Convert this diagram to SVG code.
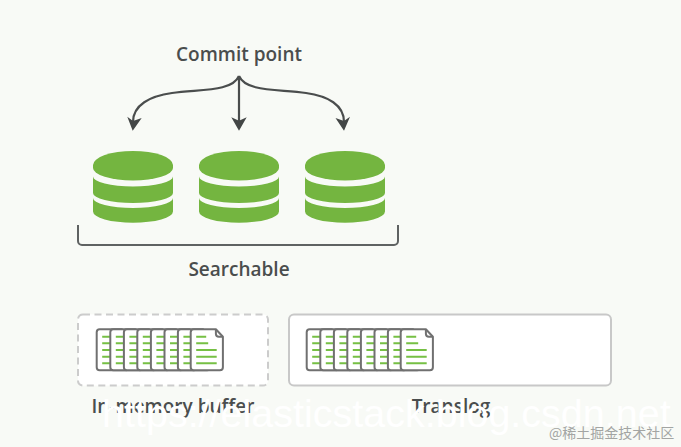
<svg xmlns="http://www.w3.org/2000/svg" xmlns:xlink="http://www.w3.org/1999/xlink" width="681" height="447" viewBox="0 0 681 447">
<style>
.lbl{font-family:"Open Sans","Liberation Sans",sans-serif;font-weight:600;font-size:19px;fill:#4a4d4d;text-anchor:middle}
.slab{fill:#74b540}
.edge{fill:none;stroke:#4a4d4d;stroke-width:2.2}
.head{fill:#434646}
.dl{stroke:#76c044;stroke-width:2;fill:none}
.ds{fill:#fff;stroke:#707070;stroke-width:2;stroke-linejoin:round}
</style>
<defs>
<g id="db">
<path class="slab" d="M-40 165A40 14 0 0 1 40 165V168A40 12.5 0 0 1-40 168Z"/>
<path class="slab" d="M-40 176.5A40 10 0 0 0 40 176.5V193A40 10 0 0 1-40 193Z"/>
<path class="slab" d="M-40 198A40 10 0 0 0 40 198V211.5A40 11.2 0 0 1-40 211.5Z"/>
</g>
<g id="doc">
<path class="ds" d="M4 0H25.2L32.2 7.5V38A3 3 0 0 1 29.2 41H3A3 3 0 0 1 0 38V3A3 3 0 0 1 3 0Z"/>
<path d="M25.2 0V4.5A3 3 0 0 0 28.2 7.5H32.2" fill="none" stroke="#707070" stroke-width="2"/>
<path class="dl" d="M5.5 7.5H15.5M5.5 14H17.5M5.5 20.7H26M5.5 27.4H26M5.5 34H26"/>
</g>
<g id="stack">
<use xlink:href="#doc" href="#doc" x="0"/>
<use xlink:href="#doc" href="#doc" x="13.6"/>
<use xlink:href="#doc" href="#doc" x="27.2"/>
<use xlink:href="#doc" href="#doc" x="40.6"/>
<use xlink:href="#doc" href="#doc" x="54.2"/>
<use xlink:href="#doc" href="#doc" x="67.8"/>
<use xlink:href="#doc" href="#doc" x="81.2"/>
<use xlink:href="#doc" href="#doc" x="94"/>
</g>
</defs>
<rect width="681" height="447" fill="#f8faf6"/>
<g id="connectors">
<path class="edge" d="M239 76C232 92 200 89 172 93C150 96 133 105 133 122"/>
<path class="edge" d="M239 76V122"/>
<path class="edge" d="M239 76C246 92 278 89 306 93C328 96 344 105 344 122"/>
<path class="head" d="M132.7 130.7L127.3 116.7L133 121L141.7 118Z"/>
<path class="head" d="M239 130.7L231.3 117.3L239 120.7L246.7 117.3Z"/>
<path class="head" d="M344 130.7L335.5 118L344 121L350 116.7Z"/>
</g>
<g id="commit-point"><text class="lbl" x="239" y="61">Commit point</text></g>
<g id="segment-1"><use xlink:href="#db" href="#db" x="133"/></g>
<g id="segment-2"><use xlink:href="#db" href="#db" x="239"/></g>
<g id="segment-3"><use xlink:href="#db" href="#db" x="345"/></g>
<g id="searchable">
<path d="M78 225V241A4 4 0 0 0 82 245H394A4 4 0 0 0 398 241V225" fill="none" stroke="#5f6262" stroke-width="2"/>
<text class="lbl" x="239" y="276">Searchable</text>
</g>
<g id="in-memory-buffer">
<rect x="78" y="314.5" width="190" height="71" rx="5" fill="#fff" stroke="#cccccc" stroke-width="2" stroke-dasharray="7 4.5"/>
<use xlink:href="#stack" href="#stack" x="96.7" y="329.3"/>
<text class="lbl" x="173" y="413">In-memory buffer</text>
</g>
<g id="translog">
<rect x="289" y="314.5" width="322" height="71" rx="5" fill="#fff" stroke="#c8c8c8" stroke-width="2"/>
<use xlink:href="#stack" href="#stack" x="306.7" y="329.3"/>
<text class="lbl" x="451" y="413">Translog</text>
</g>
<text x="102" y="427" font-family="'Liberation Sans',Arial,sans-serif" font-size="39.5" fill="#fff">https://elasticstack.blog.csdn.net</text>
<text x="549" y="438" font-family="'Noto Sans CJK SC','Liberation Sans',sans-serif" font-size="14" fill="#a3a5a3">@稀土掘金技术社区</text>
</svg>
